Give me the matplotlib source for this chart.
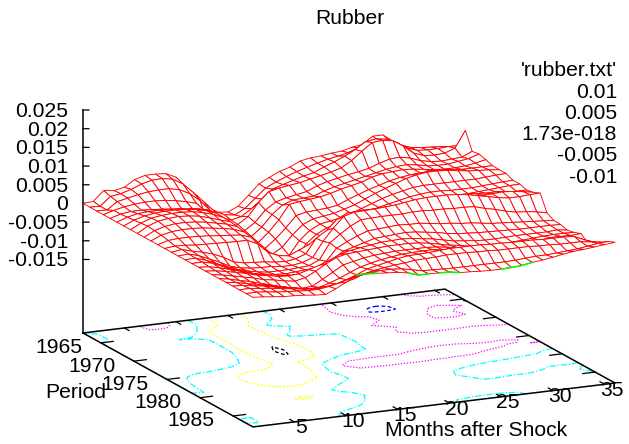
import numpy as np
import matplotlib
matplotlib.use('Agg')
import matplotlib.pyplot as plt
from mpl_toolkits.mplot3d import proj3d

plt.rcParams['font.family'] = 'Liberation Sans'
plt.rcParams['font.size'] = 15.2

W, H = 629, 444

months = np.arange(1, 37)
periods = np.linspace(1962.3, 1988.0, 26)

# response surface, in units of 0.001, one list per period
z_rows = [
    [0,.2,2.8,2.4,3,4.7,5.5,5.5,5.3,4,.3,-2.7,-5,-6.7,-7,-5.8,-3.2,-.5,.9,2.2,3,4.3,4.8,5,5.4,5.6,6.3,6.7,8.6,8.6,6.5,4.6,3.2,2.4,3.5,3.5],
    [0,-.1,2.2,2.6,3.4,4.5,5.2,5.3,4.8,3.2,.6,-2.2,-5,-6.4,-6.8,-5.4,-3,-.6,.7,1.8,2.8,3.6,4.4,5.1,5.6,6.2,7.2,7.8,8.2,8,6.6,5.6,5.2,5,4.8,4.3],
    [0,-.1,1.8,2.4,3,3.4,3.6,3.6,3,1.6,-.6,-3.6,-5.8,-6.8,-6.2,-4.4,-2.2,.1,1,1.8,2.6,3.2,4.4,5.4,6.6,8,9.8,10.2,9.8,8.6,6.8,5.8,5.6,5.6,5.8,5.8],
    [0,.8,1.4,1.8,2,2,1.8,1.4,.8,0,-4.8,-6.8,-7.6,-7,-5.2,-1.8,.8,1.4,1.8,2.2,2.8,3.4,4,4.8,6.4,8.6,10.6,10.8,10.4,8.6,6.4,5.4,5.2,5.4,6.4,10.8],
    [0,.8,1.2,1.2,1,.8,.2,-.1,-.2,-.6,-4.8,-7.4,-8.4,-7.6,-5.8,-2.8,-1,-.2,.3,.8,2,2.8,3.4,4,4.4,5,6,6.8,7,6.4,5.4,4.8,4.6,4.8,5,6.2],
    [0,1,1.6,1.8,1.8,1.8,1.6,1.2,.8,.1,-4.6,-7.6,-8.8,-8.2,-6,-3,-.8,.2,.4,.6,1.6,2.4,3,3.6,4.2,4.8,5.4,5.8,6,5.6,5,4.8,4.8,5.2,5.6,6.5],
    [0,1.2,2,2.4,2.6,2.6,2.4,2,1.4,.3,-4.4,-7.8,-9.2,-8.8,-6.4,-3.4,.4,.8,1.1,1.4,2,2.8,3.4,4,5,5.6,5.8,6,5.8,5.4,5,4.8,4.8,5,5.4,6],
    [0,1.4,2.4,2.8,3,3,2.8,2.2,1.4,.2,-4.6,-8,-9.6,-9.4,-7.2,-4.6,-1.6,-1,-.8,-.6,-.2,1,2,3,3.8,4.6,5.2,5.6,5.8,6,5.8,5.6,5.4,5.4,5.4,5.4],
    [0,1.6,2.6,3,3.2,3,2.6,1.8,.9,.1,-5,-8,-9.8,-10,-8.4,-5.4,-3,-1.8,-1.4,-1,-.2,.6,1.8,3,4,5,6,6.6,7,7,6.8,6.4,6,5.8,5.6,5.3],
    [0,1.4,2.2,2.6,2.6,2.4,2,1.4,.8,-.2,-4.8,-7.6,-9.6,-10.4,-9.6,-6,-3.6,-2.2,-1.7,-1.2,-.4,.6,1.6,2.6,3.4,4,4.6,4.8,4.8,4.8,4.8,4.8,4.8,5,5.2,5.3],
    [0,1.2,1.8,2,2,1.8,1.4,1,.4,-.6,-4.4,-7,-8.8,-10.2,-9.4,-5.8,-3.6,-2.2,-1.6,-1,-.2,.8,1.6,2.2,2.8,3.4,3.8,4,4,3.8,3.8,3.8,4,4.2,4.4,4.5],
    [0,.8,1,1,.9,.7,.4,.2,-.1,-1,-4,-6,-7.8,-8.6,-8,-5.4,-3.2,-1.6,-1.2,-.8,-.1,.8,1.6,2.2,2.6,3,3.4,3.6,3.6,3.6,3.6,3.8,4,4.2,4.4,4.5],
    [0,.3,.2,-.1,-.2,-.3,-.4,-.5,-.5,-1.8,-4.4,-5.6,-6,-4.8,-3.6,-2.4,-.8,.6,1.1,1.6,2.4,3,3.6,4,4.4,4.6,4.8,4.8,4.8,4.6,4.6,4.4,4.4,4,3.9,3.9],
    [0,.4,-.4,-1,-1.8,-3,-4.6,-5.2,-5.4,-5.6,-6,-6.2,-5.8,-4.8,-1,.8,3.4,4.8,4.9,5,5,5,5,5.4,5.6,5.8,5.8,5.8,5.6,5.4,5.2,5.2,5.4,5.2,4.8,4.3],
    [0,.2,-.6,-1.8,-3,-4.4,-5.2,-5.6,-5.8,-5.8,-6.2,-6.2,-5.8,-4.8,-.8,2.4,5.2,6,6.1,6.2,6.4,6.6,7,7.4,7.6,7.6,7.6,7.4,7,6.4,5.8,5.2,4.8,4.8,5,5.1],
    [0,.1,-.8,-2,-3.2,-4.2,-5,-5.6,-6,-6,-6,-5.8,-5.6,-4.4,-.2,1.8,3.6,5,5.1,5.2,5.2,5.2,5.4,5.4,5.2,5.2,5,5,4.8,4,3.4,2.6,2,1.8,1.4,.8],
    [0,.05,-.6,-1.8,-3,-3.8,-4.8,-5.2,-5.6,-5.8,-5.6,-5.4,-5.2,-3.8,-.6,.8,2,3,3.2,3.4,3.6,3.4,3.4,3,2.6,2.4,2,1.8,1.4,1,.8,.6,.4,.2,0,-.2],
    [0,-.2,-.8,-1.6,-2.4,-3.2,-4,-4.8,-5,-5.2,-5.2,-4.4,-3.6,-2.2,-.4,.4,1.2,2,2.2,2.4,2.6,2.4,2,1.6,1,.6,.4,.2,.1,0,-.1,-.2,-.2,-.2,-.2,-.3],
    [0,-.3,-.8,-1.4,-2,-2.8,-3.2,-3.8,-4,-3.8,-3,-2.2,-1.2,.1,.8,1.2,1.6,2,2.1,2.2,2,1.6,1.2,.6,0,-.3,-.6,-.8,-.8,-.7,-.6,-.6,-.6,-.6,-.4,-.8],
    [0,-.4,-1,-1.6,-2.2,-3,-3.4,-4,-4.4,-3.8,-2.4,-.8,.6,1.2,1.4,1.6,1.8,2,2,2,1.8,1.4,.8,.2,-.2,-.8,-1.2,-1.2,-1.2,-1,-.8,-.6,-.4,-.3,-.3,-.4],
    [0,-.5,-1.2,-1.8,-2.6,-3.4,-4.2,-4.8,-5.3,-5.1,-3.6,-2,-.4,.2,.8,1.2,1.4,1.6,1.6,1.6,1.6,1.4,1,.6,.2,-.2,-.6,-.8,-.8,-.8,-.6,-.2,.2,.2,.1,.3],
    [0,-.4,-1,-1.6,-2.2,-2.8,-3.4,-4,-4.4,-4.4,-3.6,-2.6,-1.4,-.3,.4,1,1.4,1.8,1.9,2,2,1.6,1.2,.6,.2,.1,.2,.4,.6,.6,.6,.8,.8,.6,.4,-1.3],
    [0,-.2,-.6,-1,-1.6,-2.2,-2.8,-3.2,-3.4,-3.2,-2.8,-2,-1,.2,.8,1.4,2,2.4,2.5,2.6,2.8,3,3,3,3,2.8,2.8,2.6,2.6,2.6,2.4,2.4,2.4,2.2,1,0],
    [0,.05,-.3,-.6,-1,-1.4,-1.8,-2.2,-2.4,-2.2,-1.6,-.8,.2,.8,1.2,1.6,1.8,2.2,2.3,2.4,2.6,2.6,2.6,2.4,2.4,2.2,2.2,2.2,2.2,2,2,1.8,1.8,1.8,1.4,1],
    [0,.05,-.2,-.6,-.8,-1,-1.2,-1.2,-.8,-.2,.6,1.2,1.6,1.8,1.8,1.6,1,.4,.3,.2,.1,.1,.1,.1,.1,.1,.2,.4,.6,.6,.8,1,1.2,1.6,2,2.2],
    [0,-.2,-.5,-.8,-.9,-1.1,-1.4,-1.6,-.4,1,2.6,2.6,2.4,2.2,2,1.5,.6,.6,.5,.4,-.1,-.2,-.4,-.5,-.5,-.4,-.2,.3,.6,1,1.5,1.9,2.1,2.4,2.7,3],
]

contour_levels = [-0.01, -0.005, 1.73e-18, 0.005, 0.01]
contour_colors = ['black', 'yellow', 'cyan', 'magenta', 'blue']
contour_styles = [(0, (3, 2)), (0, (1.5, 1.5)), (0, (5, 1.5, 1, 1.5)), (0, (1, 1.4)), (0, (3, 2))]
legend_labels = ["'rubber.txt'", '0.01', '0.005', '1.73e-018', '-0.005', '-0.01']

x_ticks = [5, 10, 15, 20, 25, 30, 35]
y_ticks = [1965, 1970, 1975, 1980, 1985]
z_ticks = [0.025, 0.02, 0.015, 0.01, 0.005, 0, -0.005, -0.01, -0.015]

# stretches of the front row where the green contour shows through
green_spans = [(10, 12), (15, 17), (18, 20), (24, 27)]

z_base = -0.03468
z_top = 0.025

Z = np.array(z_rows) / 1000.0
X, Y = np.meshgrid(months, periods)

fig = plt.figure(figsize=(W / 100, H / 100), dpi=100)
ax = fig.add_axes([0, 0, 0.7, 0.99], projection='3d', proj_type='ortho', computed_zorder=False)
ax.view_init(elev=15, azim=-115.1)
ax.set_box_aspect((400, 401, 231))
ax.set_axis_off()

ax.contour(X, Y, Z, levels=contour_levels, zdir='z', offset=z_base, colors=contour_colors,
           linestyles=contour_styles, linewidths=0.9, zorder=1)

ax.plot_surface(X, Y, Z, rstride=1, cstride=1, color='white', edgecolor='red',
                linewidth=0.65, shade=False, zorder=3)

for a, b in green_spans:
    ax.plot(months[a:b + 1], np.full(b - a + 1, periods[-1]), Z[-1, a:b + 1], color='lime', lw=1.1, zorder=4)

ax.set_xlim(months[0], months[-1], view_margin=0)
ax.set_ylim(periods[-1], periods[0], view_margin=0)
ax.set_zlim(z_base, z_top, view_margin=0)


def project(x, y, z):
    xp, yp, _ = proj3d.proj_transform(x, y, z, ax.get_proj())
    return xp, yp


# fit the axes so the base plane corners land where they are in the picture
fig.canvas.draw()
to_axes = ax.transData + ax.transAxes.inverted()
ax_a = to_axes.transform(project(months[0], periods[0], z_base))
ax_c = to_axes.transform(project(months[-1], periods[-1], z_base))
side = (615 - 83) / (ax_c[0] - ax_a[0])
left = 83 - side * ax_a[0]
bottom = (H - 333) - side * ax_a[1]
ax.set_position([left / W, bottom / H, side / W, side / H])
ax.patch.set_alpha(0)

# base frame and z axis
x0, x1 = months[0], months[-1]
y0, y1 = periods[0], periods[-1]
frame_x = [x0, x1, x1, x0, x0]
frame_y = [y0, y0, y1, y1, y0]
ax.plot(frame_x, frame_y, [z_base] * 5, color='black', lw=1.1, zorder=2)
ax.plot([x0, x0], [y0, y0], [z_base, z_top], color='black', lw=1.1, zorder=2)

for t in x_ticks:
    ax.plot([t, t], [y1, y1 - 0.7], [z_base, z_base], color='black', lw=0.9, zorder=2)
    ax.plot([t, t], [y0, y0 + 0.7], [z_base, z_base], color='black', lw=0.9, zorder=2)
    ax.annotate(str(t), project(t, y1, z_base), xytext=(7, -6), textcoords='offset pixels',
                ha='center', va='center', annotation_clip=False)

for t in y_ticks:
    ax.plot([x0, x0 + 1.2], [t, t], [z_base, z_base], color='black', lw=0.9, zorder=2)
    ax.plot([x1, x1 - 1.2], [t, t], [z_base, z_base], color='black', lw=0.9, zorder=2)
    ax.annotate(str(t), project(x0, t, z_base), xytext=(-42, -5), textcoords='offset pixels',
                ha='center', va='center', annotation_clip=False)

for t in z_ticks:
    ax.plot([x0, x0 + 0.47], [y0, y0 + 0.17], [t, t], color='black', lw=0.9, zorder=2)
    ax.annotate(str(t), project(x0, y0, t), xytext=(-15, -1.5), textcoords='offset pixels',
                ha='right', va='center', annotation_clip=False)

fig.text(349.5 / W, 1 - 19 / H, 'Rubber', ha='center', va='center')
fig.text(476.5 / W, 1 - 430 / H, 'Months after Shock', ha='center', va='center')
fig.text(76 / W, 1 - 392 / H, 'Period', ha='center', va='center')

for i, label in enumerate(legend_labels):
    fig.text(617 / W, 1 - (71 + 21.2 * i) / H, label, ha='right', va='center')

fig.savefig('out.png', dpi=100)
